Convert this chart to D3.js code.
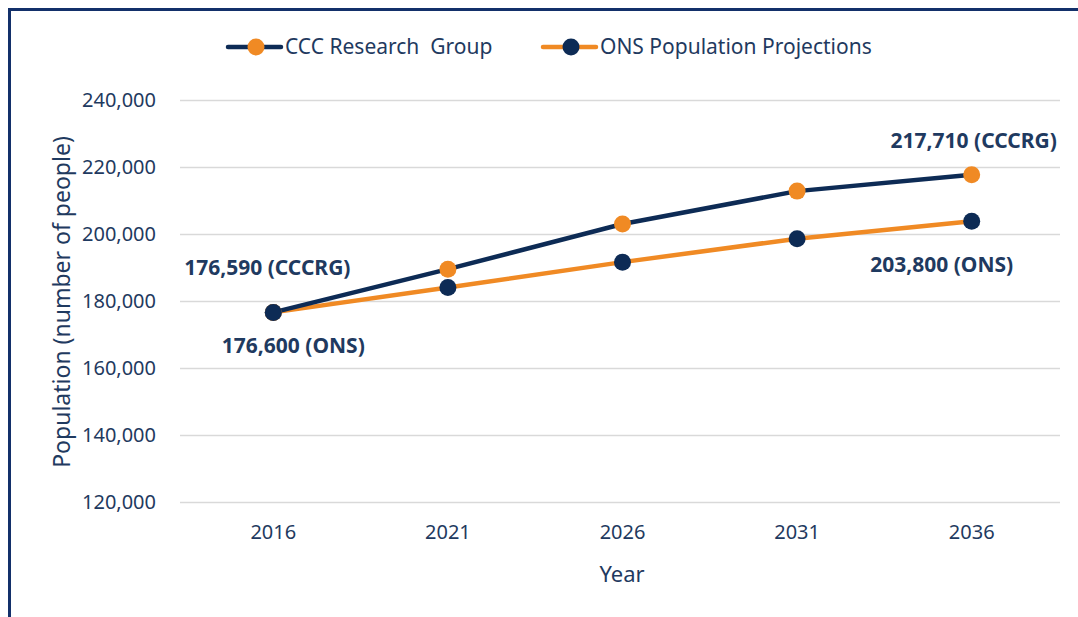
<!DOCTYPE html>
<html>
<head>
<meta charset="utf-8">
<script src="https://cdn.jsdelivr.net/npm/d3@7"></script>
<style>
  body { margin: 0; background: #fff; }
  svg { display: block; font-family: "Noto Sans", "Open Sans", sans-serif; }
</style>
</head>
<body>
<svg id="chart" width="1078" height="617"></svg>
<script>
var years = ["2016", "2021", "2026", "2031", "2036"];
var cccrgValues = [176590, 189500, 203000, 212800, 217710];
var onsValues = [176600, 184000, 191600, 198600, 203800];
var yTicks = [120000, 140000, 160000, 180000, 200000, 220000, 240000];

var navy = "#0d2b55";
var orange = "#f08a24";
var textColor = "#1f3a60";

var svg = d3.select("#chart");

// frame (top and left edges only, as in the source)
svg.append("path")
    .attr("d", "M9.5,617 V9.5 H1078")
    .attr("fill", "none")
    .attr("stroke", "#13306a")
    .attr("stroke-width", 3);

var x = d3.scaleBand().domain(years).range([186, 1059]);
var y = d3.scaleLinear().domain([120000, 240000]).range([502, 100]);

// gridlines
svg.append("g")
    .selectAll("line")
    .data(yTicks)
    .enter()
    .append("line")
    .attr("x1", 180)
    .attr("x2", 1060)
    .attr("y1", function (d) { return Math.round(y(d)) + 0.5; })
    .attr("y2", function (d) { return Math.round(y(d)) + 0.5; })
    .attr("stroke", "#d9d9d9")
    .attr("stroke-width", 1.5);

// y axis labels
var yAxis = d3.axisLeft(y).tickValues(yTicks).tickSize(0).tickPadding(0)
    .tickFormat(d3.format(","));
var gy = svg.append("g").attr("transform", "translate(156,0)").call(yAxis);
gy.attr("font-family", null).attr("font-size", null);
gy.select(".domain").remove();
gy.selectAll("text")
    .style("font-size", "20px")
    .style("fill", textColor);

// x axis labels
var xAxis = d3.axisBottom(x).tickSize(0).tickPadding(0);
var gx = svg.append("g").attr("transform", "translate(0,525)").call(xAxis);
gx.attr("font-family", null).attr("font-size", null);
gx.select(".domain").remove();
gx.selectAll("text")
    .style("font-size", "20px")
    .style("fill", textColor);

// axis titles
svg.append("text")
    .attr("transform", "translate(70,302) rotate(-90)")
    .attr("text-anchor", "middle")
    .style("font-size", "23px")
    .style("fill", textColor)
    .text("Population (number of people)");

svg.append("text")
    .attr("x", 622)
    .attr("y", 582)
    .attr("text-anchor", "middle")
    .style("font-size", "22px")
    .style("fill", textColor)
    .text("Year");

function cx(d, i) { return x(years[i]) + x.bandwidth() / 2; }

var line = d3.line()
    .x(function (d, i) { return cx(d, i); })
    .y(function (d) { return y(d); });

// ONS series: orange line, navy markers
svg.append("path")
    .datum(onsValues)
    .attr("d", line)
    .attr("fill", "none")
    .attr("stroke", orange)
    .attr("stroke-width", 4.5)
    .attr("stroke-linejoin", "round");

// CCCRG series: navy line, orange markers
svg.append("path")
    .datum(cccrgValues)
    .attr("d", line)
    .attr("fill", "none")
    .attr("stroke", navy)
    .attr("stroke-width", 4.5)
    .attr("stroke-linejoin", "round");

svg.append("g")
    .selectAll("circle")
    .data(onsValues)
    .enter()
    .append("circle")
    .attr("cx", cx)
    .attr("cy", function (d) { return y(d); })
    .attr("r", 8.5)
    .attr("fill", navy);

svg.append("g")
    .selectAll("circle")
    .data(cccrgValues)
    .enter()
    .append("circle")
    .attr("cx", cx)
    .attr("cy", function (d) { return y(d); })
    .attr("r", 8.5)
    .attr("fill", orange);

// the 2016 ONS marker sits on top in the source
svg.append("circle")
    .attr("cx", cx(null, 0))
    .attr("cy", y(onsValues[0]))
    .attr("r", 8.5)
    .attr("fill", navy);

// data labels
var fmt = d3.format(",");
var labels = [
    { text: fmt(cccrgValues[0]) + " (CCCRG)", i: 0, v: cccrgValues[0], dx: -6, dy: -43 },
    { text: fmt(onsValues[0]) + " (ONS)", i: 0, v: onsValues[0], dx: 20, dy: 35 },
    { text: fmt(cccrgValues[4]) + " (CCCRG)", i: 4, v: cccrgValues[4], dx: 2, dy: -32 },
    { text: fmt(onsValues[4]) + " (ONS)", i: 4, v: onsValues[4], dx: -30, dy: 45 }
];
svg.append("g")
    .selectAll("text")
    .data(labels)
    .enter()
    .append("text")
    .attr("x", function (d) { return cx(null, d.i) + d.dx; })
    .attr("y", function (d) { return y(d.v) + d.dy; })
    .attr("text-anchor", "middle")
    .attr("dominant-baseline", "middle")
    .style("font-size", "21px")
    .style("font-weight", "bold")
    .style("fill", textColor)
    .text(function (d) { return d.text; });

// legend
var legendItems = [
    { name: "CCC Research\u00a0\u00a0Group", lineColor: navy, dotColor: orange, x: 228 },
    { name: "ONS Population Projections", lineColor: orange, dotColor: navy, x: 543 }
];
var leg = svg.append("g")
    .selectAll("g")
    .data(legendItems)
    .enter()
    .append("g")
    .attr("transform", function (d) { return "translate(" + d.x + ",47)"; });
leg.append("line")
    .attr("x1", 0).attr("x2", 53)
    .attr("stroke", function (d) { return d.lineColor; })
    .attr("stroke-width", 4.5)
    .attr("stroke-linecap", "round");
leg.append("circle")
    .attr("cx", 28)
    .attr("r", 8.5)
    .attr("fill", function (d) { return d.dotColor; });
leg.append("text")
    .attr("x", 57)
    .attr("dy", "0.35em")
    .style("font-size", "21px")
    .style("fill", textColor)
    .text(function (d) { return d.name; });
</script>
</body>
</html>
